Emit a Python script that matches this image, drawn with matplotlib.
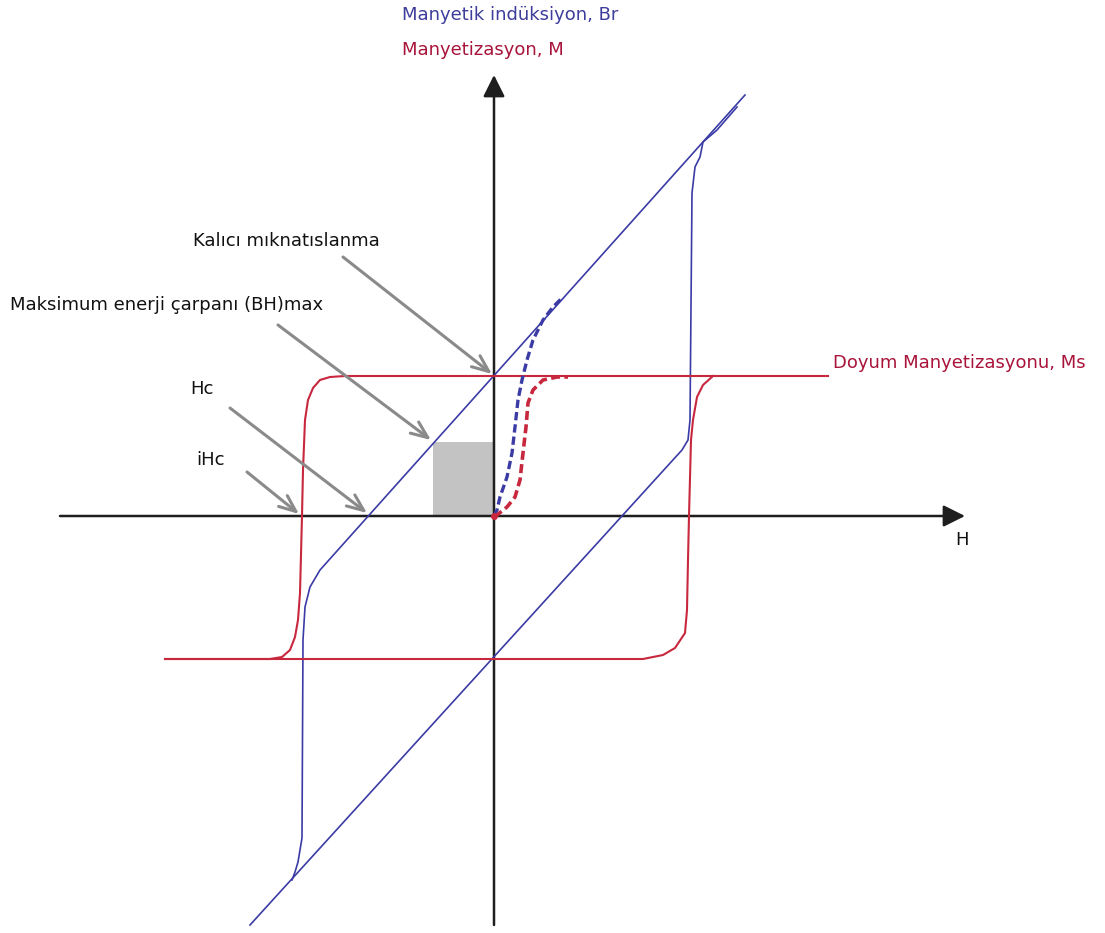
"""
Hysteresis loops of a permanent magnet: M(H) and B(H) on one diagram.
"""

import matplotlib
matplotlib.use("Agg")
import matplotlib.pyplot as plt
from matplotlib.patches import Rectangle

# ──────────────────────────────────────────────
# colours
# ──────────────────────────────────────────────
C_B     = "#3b3ba6"     # induction curve
C_M     = "#c8283e"     # magnetisation curve
C_BTXT  = "#3d3d9c"
C_MTXT  = "#a8143a"
C_AXIS  = "#1e1e1e"
C_ARROW = "#8a8a8a"
C_BOX   = "#c3c3c3"

# ──────────────────────────────────────────────
# data (H horizontal, B / M vertical, origin at 0)
# ──────────────────────────────────────────────
# M loop – descending branch (from +Ms to -Ms)
m_down_h = [334, -149, -164, -174, -181, -186, -189, -191, -192, -194, -196, -199, -204, -212, -224, -329]
m_down_v = [140, 140, 139, 136, 128, 116, 96, 46, 0, -77, -104, -121, -134, -141, -143, -143]
# M loop – ascending branch (from -Ms to +Ms)
m_up_h = [-329, 149, 169, 181, 191, 193, 194, 195, 197, 199, 203, 209, 219]
m_up_v = [-143, -143, -139, -132, -117, -94, -44, 0, 76, 96, 119, 131, 140]

# B loop – descending branch
b_down_h = [251, -174, -184, -189, -191, -192, -194, -196, -199, -202]
b_down_v = [421, -54, -71, -91, -124, -322, -334, -346, -356, -364]
# B loop – ascending branch
b_up_h = [-244, 188, 194, 196, 198, 201, 206, 209, 223, 243]
b_up_v = [-409, 66, 76, 96, 323, 349, 359, 374, 386, 409]

# initial (virgin) magnetisation curves
virgin_b_h = [0, 3, 6, 13, 18, 21, 24, 28, 33, 39, 49, 59, 69]
virgin_b_v = [0, 6, 19, 39, 63, 89, 116, 136, 156, 176, 196, 209, 219]
virgin_m_h = [0, 3, 13, 21, 26, 29, 32, 34, 39, 49, 63, 74]
virgin_m_v = [0, 1, 9, 19, 36, 63, 89, 113, 126, 136, 139, 139]

# (BH)max box: corner on the demagnetisation curve
bhmax_h = -61
bhmax_b = 74

# axis extents
H_AXIS = (-434, 471)
V_AXIS = (-409, 441)

# annotation arrows: (text, text position, arrow tail, arrow head)
LABELS = [
    ("Kalıcı mıknatıslanma",            (-301, 275), (-151, 259), (-2, 142)),
    ("Maksimum enerji çarpanı (BH)max", (-484, 211), (-216, 191), (-63, 76)),
    ("Hc",                              (-304, 127), (-264, 108), (-127, 3)),
    ("iHc",                             (-298, 56),  (-247, 44),  (-195, 2)),
]

FS = 13

# ──────────────────────────────────────────────
# figure
# ──────────────────────────────────────────────
fig = plt.figure(figsize=(11.05, 9.33), dpi=100)
ax = fig.add_axes([0, 0, 1, 1])
ax.set_xlim(-494, 611)
ax.set_ylim(-417, 516)
ax.axis("off")

# axes with arrow heads
ax.annotate("", xy=(H_AXIS[1], 0), xytext=(H_AXIS[0], 0),
            arrowprops=dict(arrowstyle="-|>,head_length=0.6,head_width=0.3",
                            color=C_AXIS, lw=1.8,
                            mutation_scale=22, shrinkA=0, shrinkB=0))
ax.annotate("", xy=(0, V_AXIS[1]), xytext=(0, V_AXIS[0]),
            arrowprops=dict(arrowstyle="-|>,head_length=0.6,head_width=0.3",
                            color=C_AXIS, lw=1.8,
                            mutation_scale=22, shrinkA=0, shrinkB=0))

# (BH)max rectangle
ax.add_patch(Rectangle((bhmax_h, 0), -bhmax_h, bhmax_b, color=C_BOX, lw=0, zorder=1))

# loops
ax.plot(b_down_h, b_down_v, color=C_B, lw=1.2, zorder=3)
ax.plot(b_up_h, b_up_v, color=C_B, lw=1.2, zorder=3)
ax.plot(m_down_h, m_down_v, color=C_M, lw=1.5, zorder=4)
ax.plot(m_up_h, m_up_v, color=C_M, lw=1.5, zorder=4)

# virgin curves
ax.plot(virgin_b_h, virgin_b_v, color=C_B, lw=2.4, ls=(0, (2.5, 1.2)), zorder=5)
ax.plot(virgin_m_h, virgin_m_v, color=C_M, lw=2.6, ls=(0, (2.5, 1.2)), zorder=5)
ax.plot([0], [0], "o", color=C_M, ms=4, zorder=6)

# pointer labels
for text, (tx, ty), tail, head in LABELS:
    ax.text(tx, ty, text, fontsize=FS, color="#111111", ha="left", va="center")
    ax.annotate("", xy=head, xytext=tail,
                arrowprops=dict(arrowstyle="->,head_length=0.6,head_width=0.25",
                                color=C_ARROW, lw=2.2, mutation_scale=20,
                                shrinkA=0, shrinkB=0), zorder=7)

# axis titles
ax.text(-92, 501, "Manyetik indüksiyon, Br", fontsize=FS, color=C_BTXT, ha="left", va="center")
ax.text(-92, 466, "Manyetizasyon, M", fontsize=FS, color=C_MTXT, ha="left", va="center")
ax.text(339, 153, "Doyum Manyetizasyonu, Ms", fontsize=FS, color=C_MTXT, ha="left", va="center")
ax.text(461, -24, "H", fontsize=FS, color="#111111", ha="left", va="center")

fig.savefig("out.png", dpi=100, facecolor="white")
